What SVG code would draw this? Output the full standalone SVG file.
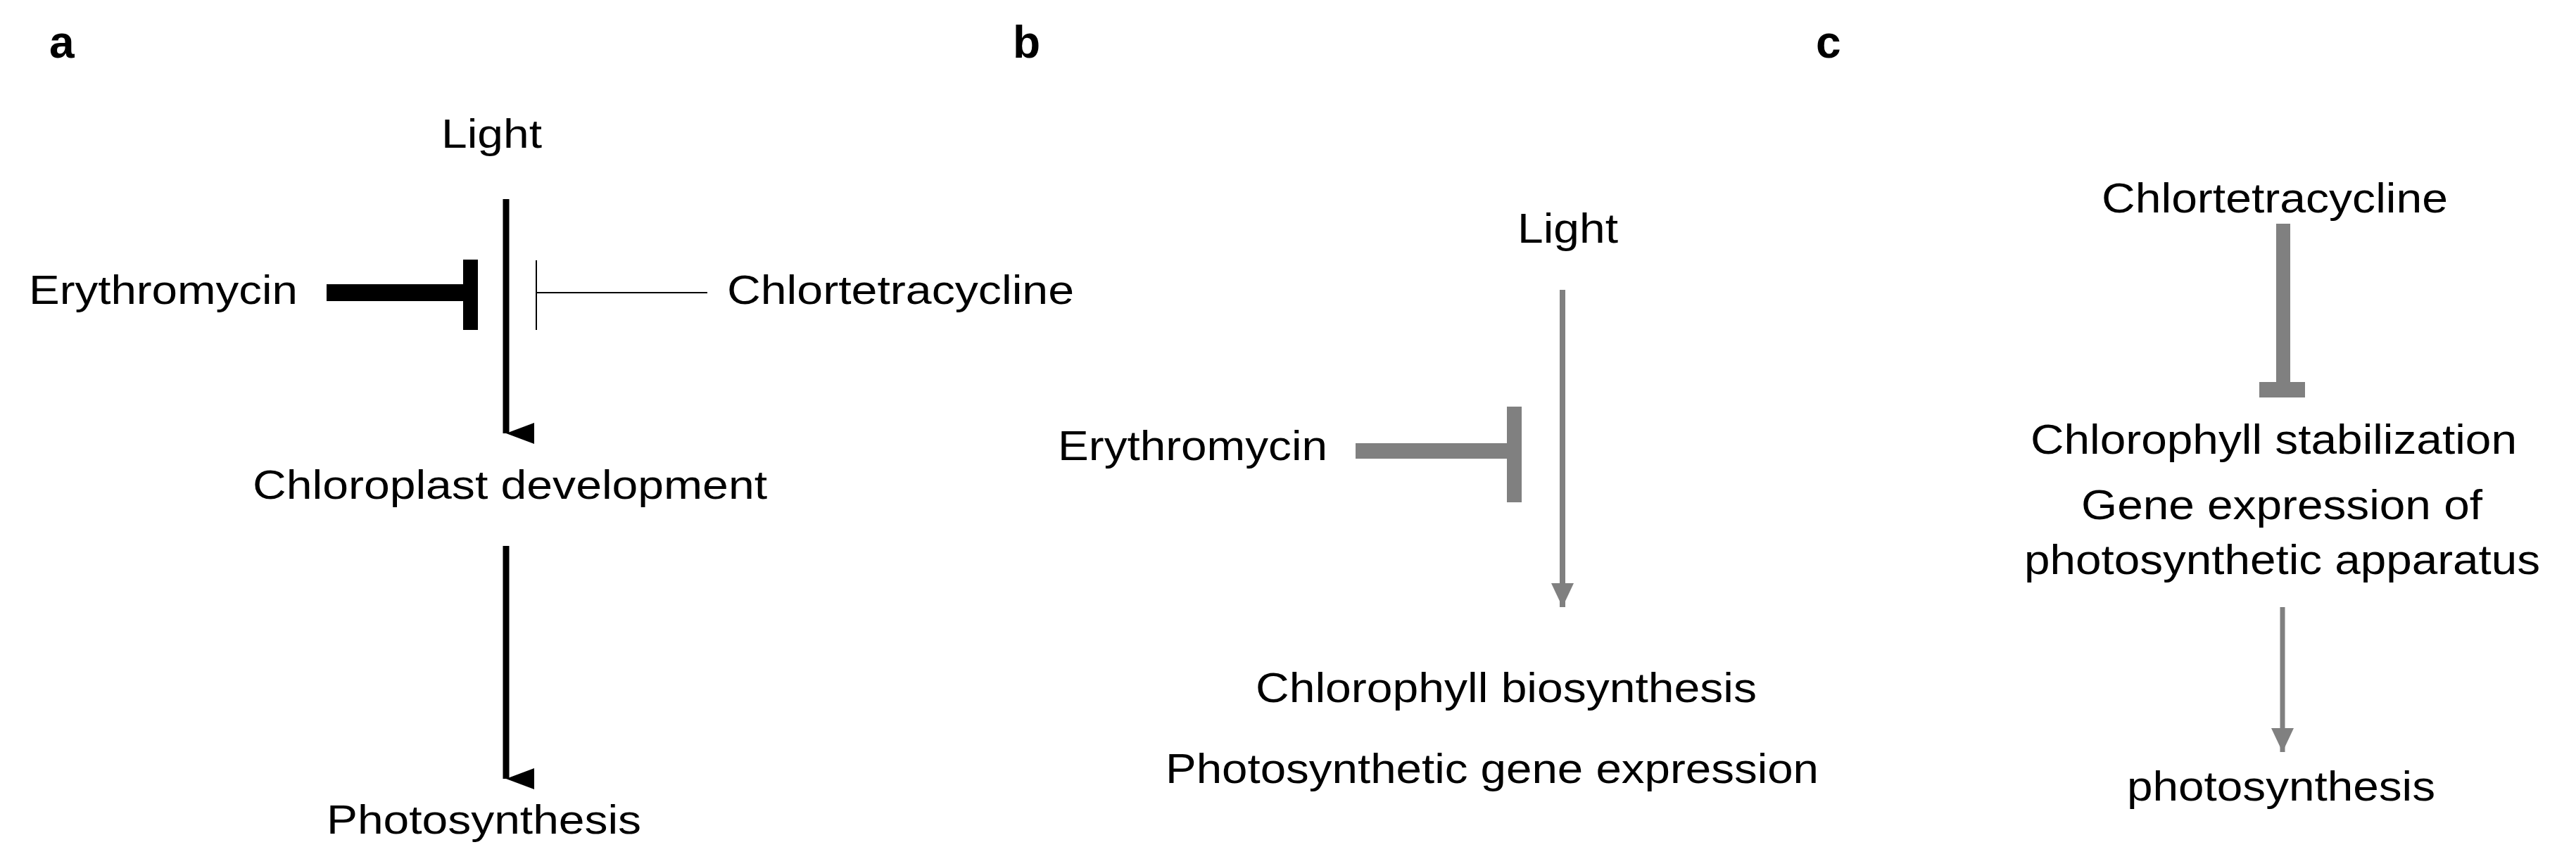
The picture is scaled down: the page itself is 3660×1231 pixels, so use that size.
<svg xmlns="http://www.w3.org/2000/svg" width="3660" height="1231" viewBox="0 0 3660 1231">
<style>
text{font-family:"Liberation Sans",Arial,sans-serif;fill:#000}
.lbl{font-weight:bold;font-size:64px}
.t{font-size:58px}
.t2{font-size:60px}
</style>
<defs>
<marker id="ab" markerUnits="userSpaceOnUse" markerWidth="30" markerHeight="40" refX="15" refY="40" orient="auto-start-reverse" viewBox="0 0 30 40"><path d="M0,0 L30,0 L15,40 Z" fill="#000" transform="rotate(0)"/></marker>
<marker id="ag" markerUnits="userSpaceOnUse" markerWidth="32" markerHeight="34" refX="16" refY="34" viewBox="0 0 32 34"><path d="M0,0 L32,0 L16,34 Z" fill="#808080"/></marker>
</defs>
<rect width="3660" height="1231" fill="#fff"/>
<text class="lbl" x="70" y="82">a</text>
<text class="lbl" x="1439" y="82">b</text>
<text class="lbl" x="2580" y="82">c</text>
<g id="a-light"><text class="t" x="627" y="210" textLength="143" lengthAdjust="spacingAndGlyphs">Light</text></g>
<g id="a-ery"><text class="t" x="41" y="432" textLength="382" lengthAdjust="spacingAndGlyphs">Erythromycin</text></g>
<g id="a-chl"><text class="t" x="1033" y="432" textLength="493" lengthAdjust="spacingAndGlyphs">Chlortetracycline</text></g>
<g id="a-dev"><text class="t" x="359" y="709" textLength="731" lengthAdjust="spacingAndGlyphs">Chloroplast development</text></g>
<g id="a-photo"><text class="t" x="464" y="1185" textLength="447" lengthAdjust="spacingAndGlyphs">Photosynthesis</text></g>
<g id="b-light"><text class="t2" x="2156" y="345" textLength="143" lengthAdjust="spacingAndGlyphs">Light</text></g>
<g id="b-ery"><text class="t2" x="1503" y="654" textLength="383" lengthAdjust="spacingAndGlyphs">Erythromycin</text></g>
<g id="b-out"><text class="t2" x="1784" y="998" textLength="712" lengthAdjust="spacingAndGlyphs">Chlorophyll biosynthesis</text>
<text class="t2" x="1656" y="1113" textLength="928" lengthAdjust="spacingAndGlyphs">Photosynthetic gene expression</text></g>
<g id="c-chl"><text class="t2" x="2986" y="302" textLength="492" lengthAdjust="spacingAndGlyphs">Chlortetracycline</text></g>
<g id="c-mid"><text class="t2" x="2885" y="645" textLength="691" lengthAdjust="spacingAndGlyphs">Chlorophyll stabilization</text>
<text class="t2" x="2957" y="738" textLength="570" lengthAdjust="spacingAndGlyphs">Gene expression  of</text>
<text class="t2" x="2876" y="816" textLength="733" lengthAdjust="spacingAndGlyphs">photosynthetic apparatus</text></g>
<g id="c-photo"><text class="t2" x="3022" y="1138" textLength="438" lengthAdjust="spacingAndGlyphs">photosynthesis</text></g>
<g id="connectors">
<line x1="719" y1="283" x2="719" y2="616" stroke="#000" stroke-width="9" marker-end="url(#ab)"/>
<rect x="464" y="404" width="199" height="24" fill="#000"/>
<rect x="658" y="369" width="21" height="100" fill="#000"/>
<line x1="762" y1="416" x2="1005" y2="416" stroke="#000" stroke-width="2"/>
<line x1="762" y1="370" x2="762" y2="469" stroke="#000" stroke-width="2"/>
<line x1="719" y1="776" x2="719" y2="1107" stroke="#000" stroke-width="9" marker-end="url(#ab)"/>
<line x1="2220" y1="412" x2="2220" y2="863" stroke="#808080" stroke-width="8" marker-end="url(#ag)"/>
<rect x="1926" y="630" width="215" height="22" fill="#808080"/>
<rect x="2141" y="578" width="21" height="136" fill="#808080"/>
<rect x="3234" y="318" width="20" height="231" fill="#808080"/>
<rect x="3210" y="543" width="65" height="22" fill="#808080"/>
<line x1="3243" y1="863" x2="3243" y2="1069" stroke="#808080" stroke-width="7" marker-end="url(#ag)"/>
</g>
</svg>
